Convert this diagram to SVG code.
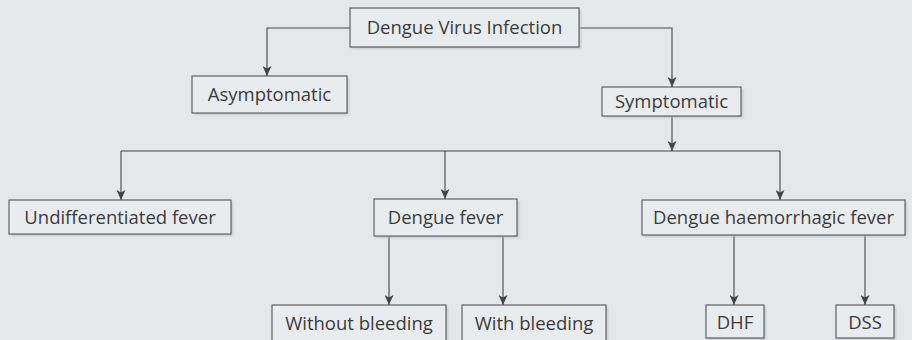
<svg xmlns="http://www.w3.org/2000/svg" width="912" height="340" viewBox="0 0 912 340">
<defs>
<marker id="arr" viewBox="0 0 10 9" refX="10" refY="4.5" markerWidth="11" markerHeight="9" markerUnits="userSpaceOnUse" orient="auto">
<path d="M0,0 L10,4.5 L0,9 L2.5,4.5 z" fill="#444"/>
</marker>
<filter id="sh" x="-10%" y="-30%" width="120%" height="160%">
<feGaussianBlur stdDeviation="1.2"/>
</filter>
</defs>
<style>
.box{fill:#e9ecef;stroke:#555;stroke-width:1.1}
.shd{fill:#b9bdc1;opacity:0.7;filter:url(#sh)}
.lbl{font-family:"Open Sans","Noto Sans","Liberation Sans",sans-serif;font-size:18.5px;fill:#3c3c3c;text-anchor:middle}
.ln{fill:none;stroke:#444;stroke-width:1.1}
</style>
<rect width="912" height="340" fill="#e5e8eb"/>
<g id="connectors">
<polyline class="ln" points="350,28 267,28 267,76" marker-end="url(#arr)"/>
<polyline class="ln" points="579,28 672,28 672,87" marker-end="url(#arr)"/>
<line class="ln" x1="672" y1="116" x2="672" y2="151" marker-end="url(#arr)"/>
<line class="ln" x1="121" y1="151" x2="780" y2="151"/>
<line class="ln" x1="121" y1="151" x2="121" y2="200" marker-end="url(#arr)"/>
<line class="ln" x1="445" y1="151" x2="445" y2="199" marker-end="url(#arr)"/>
<line class="ln" x1="780" y1="151" x2="780" y2="200" marker-end="url(#arr)"/>
<line class="ln" x1="389" y1="236" x2="389" y2="305" marker-end="url(#arr)"/>
<line class="ln" x1="503" y1="236" x2="503" y2="305" marker-end="url(#arr)"/>
<line class="ln" x1="734" y1="235" x2="734" y2="305" marker-end="url(#arr)"/>
<line class="ln" x1="865" y1="235" x2="865" y2="305" marker-end="url(#arr)"/>
</g>
<g id="n-root">
<rect class="shd" x="352" y="10" width="229" height="39"/>
<rect class="box" x="350" y="8" width="229" height="39"/>
<text class="lbl" x="464.5" y="34">Dengue Virus Infection</text>
</g>
<g id="n-asym">
<rect class="shd" x="194" y="78" width="155" height="37"/>
<rect class="box" x="192" y="76" width="155" height="37"/>
<text class="lbl" x="269.5" y="101">Asymptomatic</text>
</g>
<g id="n-sym">
<rect class="shd" x="604" y="89" width="139" height="29"/>
<rect class="box" x="602" y="87" width="139" height="29"/>
<text class="lbl" x="671.5" y="107.5">Symptomatic</text>
</g>
<g id="n-undiff">
<rect class="shd" x="11" y="202" width="222" height="34"/>
<rect class="box" x="9" y="200" width="222" height="34"/>
<text class="lbl" x="120" y="223.5">Undifferentiated fever</text>
</g>
<g id="n-df">
<rect class="shd" x="376" y="201" width="143" height="37"/>
<rect class="box" x="374" y="199" width="143" height="37"/>
<text class="lbl" x="445.5" y="224">Dengue fever</text>
</g>
<g id="n-dhf-main">
<rect class="shd" x="644" y="202" width="263" height="35"/>
<rect class="box" x="642" y="200" width="263" height="35"/>
<text class="lbl" x="773.5" y="223.5">Dengue haemorrhagic fever</text>
</g>
<g id="n-without">
<rect class="shd" x="274" y="307" width="174" height="36"/>
<rect class="box" x="272" y="305" width="174" height="36"/>
<text class="lbl" x="359" y="329.5">Without bleeding</text>
</g>
<g id="n-with">
<rect class="shd" x="464" y="307" width="144" height="36"/>
<rect class="box" x="462" y="305" width="144" height="36"/>
<text class="lbl" x="534" y="329.5">With bleeding</text>
</g>
<g id="n-dhf">
<rect class="shd" x="708" y="307" width="58" height="33"/>
<rect class="box" x="706" y="305" width="58" height="33"/>
<text class="lbl" x="735" y="328.5">DHF</text>
</g>
<g id="n-dss">
<rect class="shd" x="838" y="307" width="58" height="33"/>
<rect class="box" x="836" y="305" width="58" height="33"/>
<text class="lbl" x="865" y="328.5">DSS</text>
</g>
</svg>
